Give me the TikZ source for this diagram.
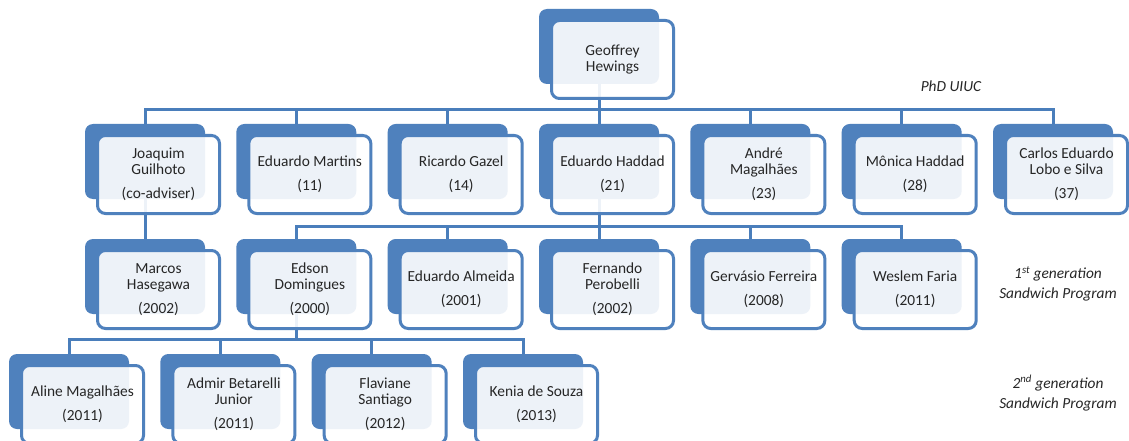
\documentclass[tikz,border=0pt]{standalone}
\usepackage{fontspec}
\setmainfont{Carlito}
\definecolor{acc}{HTML}{4F81BD}
\definecolor{lin}{HTML}{4A7EBB}
\pgfdeclarelayer{paper}
\pgfdeclarelayer{bg}
\pgfsetlayers{paper,bg,main}
\tikzset{
  backbox/.style={fill=acc, draw=none, rounded corners=8pt, minimum width=120pt, minimum height=75pt, inner sep=0pt},
  frontbox/.style={fill=white, fill opacity=0.9, text opacity=1, draw=acc, line width=3pt, rounded corners=8pt,
    minimum width=122pt, minimum height=78pt, inner sep=0pt, align=center, text=black!85,
    font=\fontsize{15.4}{16}\selectfont},
  conn/.style={draw=lin, line width=3pt},
  lab/.style={font=\fontsize{15.4}{20}\selectfont\itshape, align=center, text=black!85}
}
\newcommand\person[4]{%
  \node[backbox] (#1) at (#2+60,#3+37.5) {};
  \node[frontbox] (#1f) at (#2+73.5,#3+50.5) {#4};
}
\begin{document}
\begin{tikzpicture}[x=1pt,y=-1pt]
\clip (0,0) rectangle (1129,441);
\begin{pgfonlayer}{paper}
\fill[white] (0,0) rectangle (1129,441);
\end{pgfonlayer}
% root
\person{g}{539}{9}{Geoffrey\\Hewings}
% row 1
\person{jg}{85}{124}{Joaquim\\Guilhoto\\[8pt](co-adviser)}
\person{em}{236.33}{124}{Eduardo Martins\\[8pt](11)}
\person{rg}{387.67}{124}{Ricardo Gazel\\[8pt](14)}
\person{eh}{539}{124}{Eduardo Haddad\\[8pt](21)}
\person{am}{690.33}{124}{André\\Magalhães\\[8pt](23)}
\person{mh}{841.67}{124}{Mônica Haddad\\[8pt](28)}
\person{cs}{993}{124}{Carlos Eduardo\\Lobo e Silva\\[8pt](37)}
% row 2
\person{mk}{85}{239}{Marcos\\Hasegawa\\[8pt](2002)}
\person{ed}{236.33}{239}{Edson\\Domingues\\[8pt](2000)}
\person{ea}{387.67}{239}{Eduardo Almeida\\[8pt](2001)}
\person{fp}{539}{239}{Fernando\\Perobelli\\[8pt](2002)}
\person{gf}{690.33}{239}{Gervásio Ferreira\\[8pt](2008)}
\person{wf}{841.67}{239}{Weslem Faria\\[8pt](2011)}
% row 3
\person{al}{9}{354}{Aline Magalhães\\[8pt](2011)}
\person{ab}{160.33}{354}{Admir Betarelli\\Junior\\[8pt](2011)}
\person{fs}{311.67}{354}{Flaviane\\Santiago\\[8pt](2012)}
\person{ks}{463}{354}{Kenia de Souza\\[8pt](2013)}
% connectors
\begin{pgfonlayer}{bg}
\foreach \c in {jg,em,rg,eh,am,mh,cs}
  \draw[conn] (g.south) -- (g.south |- 0,110) -| (\c.north);
\draw[conn] (jg.south) -- (mk.north);
\foreach \c in {ed,ea,fp,gf,wf}
  \draw[conn] (eh.south) -- (eh.south |- 0,226) -| (\c.north);
\foreach \c in {al,ab,fs,ks}
  \draw[conn] (ed.south) -- (ed.south |- 0,339) -| (\c.north);
\end{pgfonlayer}
% labels
\node[lab] (phd) at (951,86) {PhD UIUC};
\node[lab] (gen1) at (1058,284) {1\textsuperscript{st} generation\\Sandwich Program};
\node[lab] (gen2) at (1058,393) {2\textsuperscript{nd} generation\\Sandwich Program};
\end{tikzpicture}
\end{document}
